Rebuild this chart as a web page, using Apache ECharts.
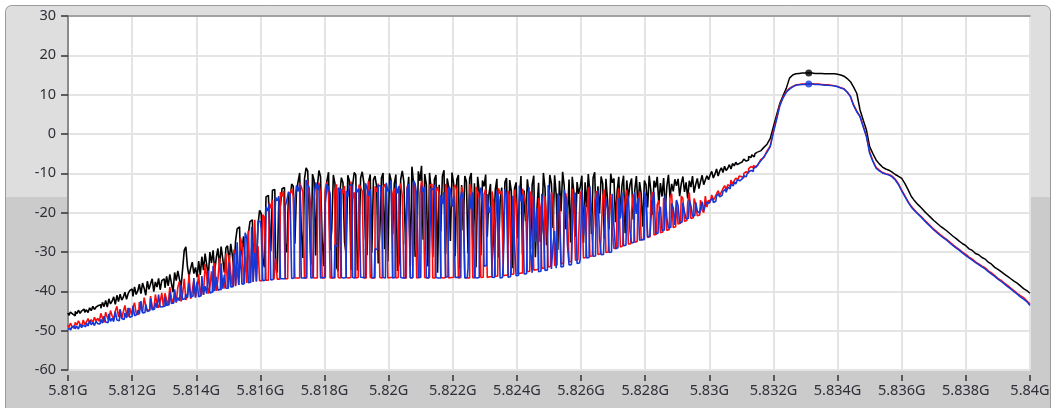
<!DOCTYPE html>
<html><head><meta charset="utf-8">
<script src="https://cdn.jsdelivr.net/npm/echarts@6/dist/echarts.min.js"></script>
<style>html,body{margin:0;padding:0;background:#fff}#c{width:1056px;height:408px}</style>
</head><body><div id="c"></div>
<script>
// Axis ranges (frequency in MHz, level in dB)
const xMinMHz = 5810, xMaxMHz = 5840, xStepMHz = 2;
const yMin = -60, yMax = 30, yStep = 10;

// Bursty part: one sample per 0.05 MHz from 5810.00 to 5831.50 MHz
const burstStartMHz = 5810, burstStepMHz = 0.05;
// Carrier part: one sample per 0.1 MHz from 5831.5 to 5840.0 MHz
const carrierStartMHz = 5831.5, carrierStepMHz = 0.1;

const blackBurstDb = [
-45.5,-46.1,-45.3,-45.8,-46.2,-45.1,-45.7,-44.8,-45.6,-45.0,-44.5,-45.3,-44.7,-45.4,-44.2,-44.9,-43.8,-44.6,-44.0,-43.6,
-43.4,-44.3,-42.8,-43.9,-42.3,-44.0,-41.9,-43.2,-42.5,-41.4,-43.3,-41.0,-42.6,-40.7,-42.2,-41.5,-40.2,-42.0,-40.6,-39.8,
-39.4,-41.3,-38.9,-40.8,-39.9,-38.2,-40.6,-37.9,-39.2,-41.0,-37.4,-39.5,-38.1,-36.8,-40.1,-37.6,-38.9,-36.7,-39.6,-37.3,
-36.8,-39.1,-36.2,-38.6,-35.7,-37.9,-40.2,-35.2,-37.3,-34.8,-36.9,-38.8,-34.3,-29.6,-28.7,-33.8,-36.2,-34.1,-32.6,-35.5,
-33.9,-36.4,-32.3,-35.8,-31.2,-34.6,-30.4,-33.2,-36.1,-30.0,-32.8,-29.6,-34.9,-31.4,-29.1,-33.5,-28.6,-31.7,-35.2,-29.0,
-28.4,-32.6,-27.9,-30.8,-34.6,-27.2,-24.1,-23.6,-31.2,-29.4,-26.0,-33.8,-35.1,-25.3,-22.3,-21.8,-30.5,-27.6,-34.2,-23.0,
-19.4,-20.2,-31.6,-33.9,-16.0,-15.6,-21.5,-29.8,-14.3,-14.1,-33.6,-35.2,-16.5,-18.2,-13.9,-13.6,-27.8,-30.1,-15.3,-14.8,
-12.7,-13.3,-27.9,-14.6,-12.1,-9.9,-24.3,-31.5,-11.4,-8.6,-9.4,-20.5,-33.2,-10.2,-11.8,-30.9,-13.4,-9.3,-10.8,-26.6,
-33.6,-14.8,-11.9,-9.7,-29.5,-24.2,-10.4,-12.6,-33.8,-34.9,-15.2,-11.1,-12.4,-27.5,-30.6,-10.5,-11.9,-34.6,-13.1,-9.8,
-10.4,-34.7,-28.6,-11.2,-9.6,-12.3,-26.3,-30.8,-12.1,-10.3,-30.2,-11.6,-10.7,-13.4,-32.9,-24.8,-11.2,-9.9,-29.3,-12.8,
-32.4,-10.0,-11.8,-25.5,-12.7,-10.3,-34.8,-32.7,-11.5,-9.4,-12.2,-28.1,-15.7,-10.9,-33.6,-8.3,-12.4,-31.2,-29.8,-9.5,
-11.9,-8.1,-26.9,-10.2,-12.8,-33.7,-9.9,-14.2,-31.3,-11.6,-10.4,-35.3,-12.9,-24.7,-10.7,-9.2,-30.5,-11.3,-13.6,-27.2,
-9.8,-12.5,-31.1,-11.6,-10.4,-34.2,-13.0,-24.5,-10.7,-12.1,-30.4,-11.3,-9.9,-27.4,-12.5,-33.9,-10.9,-14.7,-30.9,-11.8,
-13.3,-10.3,-26.1,-15.5,-12.7,-33.4,-24.9,-14.2,-11.4,-31.4,-17.3,-13.6,-29.7,-12.3,-11.2,-28.0,-11.7,-14.5,-34.1,-13.8,
-12.3,-26.5,-16.7,-10.7,-30.7,-14.4,-22.2,-11.5,-15.3,-29.3,-12.9,-10.6,-31.3,-18.9,-12.4,-27.4,-24.6,-9.9,-13.7,-28.3,
-20.8,-10.4,-12.6,-23.9,-10.5,-15.4,-29.5,-11.9,-19.7,-9.6,-13.2,-24.2,-21.3,-11.6,-27.6,-10.9,-14.8,-26.1,-12.2,-15.2,
-13.4,-10.6,-27.7,-12.3,-18.6,-10.2,-14.9,-25.4,-11.1,-9.7,-23.5,-13.3,-20.2,-10.8,-12.6,-26.6,-11.4,-16.8,-24.2,-10.1,
-12.4,-11.3,-22.4,-14.5,-10.9,-20.8,-13.1,-10.6,-25.2,-11.8,-16.4,-12.9,-11.3,-21.7,-14.2,-10.7,-18.9,-12.2,-15.3,-23.6,
-11.8,-12.9,-18.7,-10.6,-14.3,-20.5,-11.9,-13.6,-10.9,-17.8,-12.5,-15.9,-11.2,-19.4,-13.3,-10.4,-16.2,-12.7,-14.6,-11.5,
-13.2,-11.4,-15.8,-12.6,-10.8,-14.7,-12.3,-16.4,-11.9,-13.5,-10.7,-14.9,-12.8,-11.3,-13.9,-12.1,-10.5,-12.9,-11.7,-10.6,
-11.6,-10.4,-9.5,-11.2,-10.2,-8.9,-10.7,-9.4,-8.6,-9.8,-8.2,-9.3,-8.7,-7.8,-8.9,-7.5,-8.1,-7.2,-7.8,-7.4,
-7.1,-7.6,-6.4,-6.9,-6.6,-5.7,-6.0,-5.3,-5.8,-5.0,-4.6];

const redBurstDb = [
-48.6,-49.2,-48.1,-48.9,-49.4,-47.9,-48.6,-47.5,-48.3,-49.0,-47.3,-48.4,-47.8,-46.9,-48.1,-47.2,-48.0,-46.6,-47.5,-46.9,
-47.6,-45.6,-46.8,-47.9,-45.3,-46.6,-47.4,-44.9,-46.2,-47.1,-45.0,-43.8,-46.5,-44.6,-46.9,-45.2,-43.6,-45.8,-46.4,-44.2,
-45.9,-44.1,-42.9,-45.6,-45.9,-42.7,-44.3,-45.3,-41.6,-43.7,-45.0,-44.6,-41.2,-43.9,-44.7,-40.8,-43.2,-44.2,-42.6,-40.4,
-43.8,-40.5,-42.2,-43.5,-38.9,-41.6,-43.2,-40.2,-42.9,-39.0,-37.5,-42.6,-40.6,-36.8,-42.2,-41.1,-35.6,-41.9,-39.8,-37.1,
-41.5,-39.4,-35.7,-41.2,-38.3,-40.9,-33.1,-36.2,-40.6,-38.8,-34.9,-40.2,-32.8,-39.9,-37.1,-31.5,-39.7,-36.6,-39.3,-30.4,
-39.1,-30.8,-35.3,-38.9,-29.4,-38.7,-33.9,-38.4,-26.3,-27.8,-38.2,-31.3,-37.9,-24.6,-37.7,-29.1,-37.6,-21.8,-37.5,-28.5,
-37.3,-37.3,-20.5,-21.2,-37.2,-37.2,-17.5,-18.9,-16.7,-37.0,-31.6,-36.9,-36.9,-14.8,-15.9,-14.5,-36.8,-36.8,-21.7,-15.3,
-13.9,-15.8,-36.6,-36.6,-36.6,-12.5,-13.4,-14.9,-36.6,-36.6,-11.8,-14.9,-19.2,-36.5,-36.6,-36.6,-13.6,-12.4,-15.5,-36.6,
-36.6,-13.8,-12.3,-15.7,-36.6,-36.5,-36.6,-14.3,-12.8,-36.5,-36.6,-13.9,-15.1,-13.2,-36.5,-36.6,-36.5,-12.1,-16.4,-14.8,
-36.6,-36.5,-12.9,-13.6,-14.5,-36.6,-36.6,-15.8,-11.9,-36.5,-36.6,-36.6,-13.3,-14.7,-12.6,-36.5,-36.6,-13.7,-12.8,-14.1,
-36.6,-36.5,-36.5,-15.3,-13.8,-36.6,-36.5,-14.3,-12.6,-15.7,-36.6,-36.6,-13.2,-14.9,-36.5,-36.6,-12.4,-13.6,-36.6,-36.5,
-15.2,-11.9,-14.3,-36.5,-36.6,-36.5,-13.1,-12.7,-36.6,-36.6,-14.8,-13.5,-15.1,-36.5,-36.6,-36.5,-12.7,-15.8,-36.6,-36.5,
-36.5,-13.7,-12.9,-14.6,-36.6,-36.5,-13.4,-15.2,-36.5,-36.6,-36.6,-12.8,-14.1,-36.6,-36.4,-13.5,-14.8,-16.1,-36.5,-36.4,
-15.3,-13.9,-36.5,-36.3,-36.3,-14.6,-17.6,-36.2,-36.1,-13.8,-15.2,-14.5,-36.0,-35.9,-35.9,-14.5,-16.1,-35.7,-35.6,-14.2,
-17.7,-35.5,-35.4,-35.3,-13.9,-15.8,-18.3,-35.0,-34.9,-14.6,-16.5,-34.6,-34.5,-34.4,-16.3,-18.6,-34.2,-34.1,-15.8,-21.3,
-33.8,-33.7,-14.8,-16.9,-33.4,-33.3,-19.5,-15.6,-33.0,-32.9,-22.4,-15.1,-19.9,-32.5,-32.4,-13.9,-17.3,-32.1,-32.0,-26.3,
-14.6,-16.7,-31.5,-31.4,-21.5,-13.6,-31.1,-31.0,-25.8,-17.0,-14.5,-30.6,-30.5,-25.7,-16.2,-14.1,-30.1,-30.0,-19.8,-15.4,
-24.3,-29.1,-29.0,-16.8,-13.9,-28.7,-28.5,-21.2,-16.7,-14.2,-28.0,-27.9,-19.5,-15.3,-27.5,-27.3,-17.2,-14.6,-26.9,-26.8,
-18.8,-15.7,-26.3,-26.1,-16.9,-14.8,-25.7,-25.5,-18.0,-16.9,-25.1,-24.9,-16.3,-17.8,-24.5,-24.3,-16.1,-15.2,-23.8,-23.6,
-17.1,-22.9,-22.7,-15.8,-16.4,-22.2,-22.0,-17.6,-14.9,-21.5,-21.3,-16.4,-17.8,-20.8,-20.6,-16.8,-19.4,-20.0,-15.8,-18.6,
-16.8,-17.4,-15.5,-16.8,-16.1,-15.2,-14.4,-15.6,-14.8,-13.9,-13.1,-14.2,-12.9,-13.4,-11.7,-12.8,-11.9,-11.2,-11.6,-10.7,
-10.8,-11.2,-10.0,-9.6,-9.9,-8.8,-8.3,-8.6,-8.0,-8.4,-8.1];

const blueBurstDb = [
-49.7,-49.3,-49.9,-49.1,-48.7,-49.5,-48.9,-49.6,-48.4,-49.2,-48.6,-49.0,-48.1,-48.8,-47.4,-48.5,-47.9,-48.7,-47.6,-48.2,
-48.3,-47.1,-48.1,-46.3,-47.8,-48.0,-45.7,-47.6,-46.9,-47.7,-45.1,-47.3,-47.5,-44.6,-46.9,-47.2,-45.5,-46.8,-44.2,-46.6,
-46.4,-43.7,-46.2,-45.9,-44.8,-45.8,-42.5,-45.5,-45.4,-43.3,-45.1,-44.9,-41.8,-44.7,-44.5,-42.9,-44.2,-40.8,-44.0,-43.9,
-43.8,-41.4,-43.6,-43.4,-40.1,-43.1,-42.9,-39.5,-42.7,-41.6,-42.4,-38.3,-42.1,-41.9,-40.7,-41.7,-37.9,-41.5,-41.2,-36.6,
-41.6,-37.5,-41.4,-41.1,-36.1,-40.9,-38.7,-40.6,-34.7,-40.4,-40.2,-33.5,-39.9,-36.3,-39.7,-39.5,-32.9,-39.3,-35.8,-39.2,
-39.2,-32.7,-38.9,-38.8,-30.3,-38.6,-27.5,-38.4,-29.7,-38.2,-38.0,-25.1,-26.4,-37.8,-37.7,-23.6,-37.6,-30.2,-37.5,-22.1,
-22.3,-24.1,-37.3,-37.2,-18.5,-19.6,-17.8,-37.1,-37.0,-27.4,-16.1,-17.0,-15.8,-36.8,-36.8,-36.8,-18.3,-16.8,-14.7,-15.3,
-36.7,-36.6,-17.2,-13.1,-14.6,-12.8,-36.6,-36.6,-36.6,-11.7,-12.9,-13.8,-36.6,-36.5,-16.3,-12.3,-14.1,-13.0,-36.6,-36.5,
-36.5,-17.8,-12.7,-13.8,-15.1,-36.6,-36.5,-28.3,-28.6,-13.7,-14.2,-36.5,-36.6,-36.5,-14.5,-16.0,-13.2,-12.8,-36.5,-36.6,
-13.3,-14.8,-13.9,-36.4,-36.5,-36.5,-12.5,-13.7,-15.7,-14.0,-36.6,-36.5,-29.2,-29.4,-13.0,-13.3,-17.8,-36.5,-36.6,-12.4,
-14.6,-13.9,-11.8,-36.6,-36.5,-12.6,-15.1,-13.2,-36.5,-36.6,-36.6,-28.1,-14.0,-12.7,-36.6,-36.5,-11.8,-12.7,-15.6,-36.5,
-36.5,-13.1,-14.7,-13.5,-36.5,-36.6,-28.2,-13.8,-14.2,-12.9,-36.5,-36.6,-36.6,-15.6,-17.8,-14.8,-36.4,-36.3,-13.4,-14.1,
-18.5,-15.8,-36.5,-36.4,-36.5,-17.2,-14.7,-16.5,-36.6,-36.5,-34.1,-15.4,-19.1,-14.8,-36.5,-36.6,-36.5,-17.0,-13.6,-15.2,
-33.6,-33.4,-15.3,-20.0,-18.5,-36.4,-36.5,-25.7,-14.5,-16.1,-36.6,-36.5,-32.5,-14.0,-15.7,-36.4,-36.3,-31.8,-15.7,-28.0,
-36.0,-35.9,-13.1,-17.1,-15.4,-35.6,-35.5,-24.1,-13.5,-30.2,-35.3,-15.5,-27.5,-18.8,-35.0,-34.9,-15.2,-23.3,-34.7,-34.6,
-13.0,-15.6,-34.3,-28.2,-24.6,-34.1,-15.1,-20.2,-33.8,-33.7,-14.2,-16.3,-28.2,-33.3,-33.2,-25.1,-16.3,-14.9,-32.9,-32.8,
-31.8,-14.2,-25.7,-18.0,-31.5,-31.4,-13.3,-21.8,-31.1,-31.0,-17.6,-14.3,-26.3,-30.7,-30.6,-24.4,-16.5,-18.9,-30.1,-30.0,
-15.2,-23.6,-29.2,-28.9,-16.3,-21.5,-14.9,-28.4,-28.3,-19.1,-15.7,-24.6,-27.7,-27.5,-14.8,-20.3,-16.2,-27.0,-26.9,-26.8,
-14.6,-16.0,-26.2,-25.9,-21.9,-17.4,-14.7,-25.3,-25.2,-20.2,-18.5,-24.6,-24.4,-15.6,-21.3,-23.9,-23.7,-17.6,-18.8,-23.1,
-16.8,-18.2,-22.6,-22.4,-17.5,-19.8,-21.6,-21.4,-16.7,-18.2,-20.9,-20.7,-17.4,-19.6,-20.1,-18.9,-17.2,-19.5,-18.1,-17.3,
-17.6,-16.9,-16.4,-17.4,-17.1,-15.8,-15.2,-16.0,-15.6,-14.6,-14.1,-14.8,-13.6,-13.9,-12.8,-13.2,-12.1,-12.7,-11.6,-11.9,
-11.4,-11.7,-10.6,-10.9,-10.2,-9.6,-9.3,-9.5,-8.8,-8.4,-7.9];

const blackCarrierDb = [
-4.6,-4.3,-3.4,-2.6,-1.1,
1.9,4.9,7.8,9.8,11.6,14.2,15.0,15.3,15.4,15.5,
15.5,15.5,15.5,15.4,15.4,15.4,15.3,15.3,15.3,15.3,
15.2,15.0,14.7,14.1,13.3,11.9,10.3,6.1,3.5,1.0,
-3.2,-5.0,-6.6,-7.6,-8.4,-8.9,-9.2,-9.7,-10.3,-10.8,
-11.3,-12.6,-14.2,-15.9,-17.0,-17.9,-18.7,-19.6,-20.4,-21.2,
-22.0,-22.7,-23.4,-24.0,-24.6,-25.3,-26.0,-26.6,-27.3,-27.9,
-28.4,-29.2,-29.6,-30.4,-30.7,-31.4,-31.8,-32.6,-33.1,-33.9,
-34.4,-35.0,-35.6,-36.2,-36.8,-37.4,-37.9,-38.6,-39.3,-39.8,
-40.5];

const redCarrierDb = [
-8.1,-6.5,-6.0,-4.3,-3.0,
0.8,4.1,7.5,9.4,10.8,11.6,12.1,12.5,12.6,12.7,
12.7,12.8,12.8,12.7,12.7,12.6,12.5,12.5,12.4,12.3,
12.1,11.8,11.5,10.7,9.6,7.4,5.8,4.5,2.0,-0.5,
-4.6,-6.8,-8.5,-9.2,-9.8,-10.1,-10.3,-10.7,-11.5,-12.7,
-14.3,-15.7,-17.2,-18.4,-19.3,-20.2,-20.9,-21.8,-22.6,-23.4,
-24.2,-24.9,-25.6,-26.2,-26.8,-27.5,-28.2,-28.8,-29.4,-30.1,
-30.6,-31.3,-31.8,-32.5,-33.0,-33.6,-34.0,-34.8,-35.3,-36.0,
-36.7,-37.2,-37.9,-38.5,-39.2,-39.8,-40.5,-41.1,-41.6,-42.4,
-43.2];

const blueCarrierDb = [
-7.9,-6.9,-5.8,-4.6,-3.2,
0.4,3.8,7.2,9.2,10.6,11.4,12.0,12.4,12.5,12.6,
12.6,12.7,12.7,12.6,12.6,12.5,12.4,12.4,12.3,12.2,
12.0,11.7,11.4,10.6,9.5,7.2,5.6,4.4,1.8,-0.7,
-4.9,-7.0,-8.7,-9.4,-9.9,-10.2,-10.4,-10.9,-11.7,-12.9,
-14.5,-15.9,-17.4,-18.6,-19.5,-20.3,-21.1,-22.0,-22.8,-23.6,
-24.4,-25.1,-25.8,-26.4,-27.0,-27.7,-28.4,-29.0,-29.6,-30.3,
-30.9,-31.5,-32.1,-32.7,-33.2,-33.8,-34.3,-35.0,-35.6,-36.2,
-36.9,-37.5,-38.1,-38.8,-39.4,-40.1,-40.7,-41.4,-42.0,-42.6,
-43.6];

// Peak markers
const markerMHz = [5833.1];
const markerBlackDb = [15.5];
const markerBlueDb = [12.7];

function pairs(vals, start, step) {
  return vals.map((v, i) => [+(start + i * step).toFixed(2), v]);
}

const chart = echarts.init(document.getElementById('c'), null, {renderer: 'canvas'});
const labelFont = {color: '#2f2f38', fontSize: 14.5, fontFamily: 'Noto Sans'};

const traces = [
  {name: 'black', burst: blackBurstDb, carrier: blackCarrierDb, color: '#000000', z: 2},
  {name: 'red', burst: redBurstDb, carrier: redCarrierDb, color: '#ff0a0a', z: 3},
  {name: 'blue', burst: blueBurstDb, carrier: blueCarrierDb, color: '#1438d8', z: 4}
];
const series = [];
traces.forEach(t => {
  series.push({name: t.name, type: 'line', step: 'middle', showSymbol: false,
    data: pairs(t.burst, burstStartMHz, burstStepMHz), lineStyle: {color: t.color, width: 1.6},
    itemStyle: {color: t.color}, z: t.z});
  series.push({name: t.name, type: 'line', showSymbol: false,
    data: pairs(t.carrier, carrierStartMHz, carrierStepMHz), lineStyle: {color: t.color, width: 1.5},
    itemStyle: {color: t.color}, z: t.z});
});
series.push({type: 'scatter', data: markerMHz.map((x, i) => [x, markerBlackDb[i]]), symbolSize: 7,
  itemStyle: {color: '#000'}, z: 6});
series.push({type: 'scatter', data: markerMHz.map((x, i) => [x, markerBlueDb[i]]), symbolSize: 7,
  itemStyle: {color: '#1438d8'}, z: 6});

chart.setOption({
  animation: false,
  backgroundColor: '#ffffff',
  graphic: [{
    type: 'rect', z: -100, silent: true,
    shape: {x: 5.5, y: 5.5, width: 1045, height: 420, r: [6, 6, 0, 0]},
    style: {
      fill: {type: 'linear', x: 0, y: 0, x2: 0, y2: 1, colorStops: [
        {offset: 0, color: '#dedede'}, {offset: 0.455, color: '#dedede'},
        {offset: 0.456, color: '#cbcbcb'}, {offset: 1, color: '#cbcbcb'}]},
      stroke: '#9a9a9a', lineWidth: 1
    }
  }],
  grid: {left: 68, right: 26, top: 16, bottom: 38, show: true, backgroundColor: '#ffffff', borderWidth: 0},
  xAxis: [{
    type: 'value', min: xMinMHz, max: xMaxMHz, interval: xStepMHz,
    position: 'bottom', offset: 5,
    axisLine: {show: false, onZero: false},
    axisTick: {show: true, length: 6, lineStyle: {color: '#333', width: 1.5}},
    axisLabel: Object.assign({margin: 8, formatter: v => parseFloat((v / 1000).toFixed(3)) + 'G'}, labelFont),
    splitLine: {show: true, lineStyle: {color: '#e4e4e4', width: 2}}
  }, {
    type: 'value', min: xMinMHz, max: xMaxMHz, position: 'top',
    axisLine: {show: true, onZero: false, lineStyle: {color: '#8a8a8a', width: 1.5}},
    axisTick: {show: false}, axisLabel: {show: false}, splitLine: {show: false}
  }],
  yAxis: {
    type: 'value', min: yMin, max: yMax, interval: yStep,
    axisLine: {show: true, onZero: false, lineStyle: {color: '#6e6e6e', width: 1.5}},
    axisTick: {show: true, length: 7, lineStyle: {color: '#333', width: 1.5}},
    axisLabel: Object.assign({margin: 12}, labelFont),
    splitLine: {show: true, lineStyle: {color: '#e4e4e4', width: 2}}
  },
  series: series
});
</script>
</body></html>
